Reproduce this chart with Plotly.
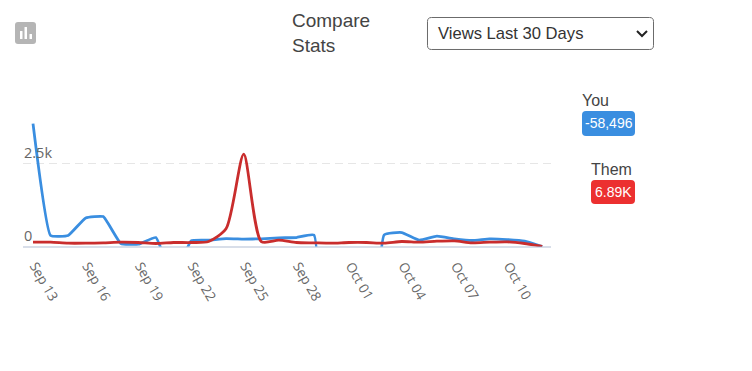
import plotly.graph_objects as go

dates = ["Sep 13","Sep 14","Sep 15","Sep 16","Sep 17","Sep 18","Sep 19","Sep 20","Sep 21","Sep 22",
         "Sep 23","Sep 24","Sep 25","Sep 26","Sep 27","Sep 28","Sep 29","Sep 30","Oct 01","Oct 02",
         "Oct 03","Oct 04","Oct 05","Oct 06","Oct 07","Oct 08","Oct 09","Oct 10","Oct 11","Oct 12"]
you = [3700,330,330,860,900,90,70,270,-1000,170,
       190,240,225,230,260,270,345,-40000,-20000,-9000,
       350,420,190,310,230,180,230,210,160,0]
them = [130,130,100,100,110,130,120,90,120,120,
        150,540,2780,150,190,120,110,100,120,120,
        100,150,130,160,170,110,130,140,90,0]
tick_labels = dates[::3]
y_ticks = [0, 2500]
y_tick_text = ["0", "2.5k"]
W, H = 752, 371
BLUE, RED = "#3a8ee0", "#c92d2d"

def px(x): return x / W
def py(y): return 1 - y / H
def rrect(x0, y0, x1, y1, r):
    X = lambda v: f"{px(v):.5f}"
    Y = lambda v: f"{py(v):.5f}"
    return (f"M{X(x0+r)},{Y(y0)} L{X(x1-r)},{Y(y0)} Q{X(x1)},{Y(y0)} {X(x1)},{Y(y0+r)} "
            f"L{X(x1)},{Y(y1-r)} Q{X(x1)},{Y(y1)} {X(x1-r)},{Y(y1)} "
            f"L{X(x0+r)},{Y(y1)} Q{X(x0)},{Y(y1)} {X(x0)},{Y(y1-r)} "
            f"L{X(x0)},{Y(y0+r)} Q{X(x0)},{Y(y0)} {X(x0+r)},{Y(y0)} Z")
def shape(path, fill="rgba(0,0,0,0)", line=None, width=1):
    return dict(type="path", xref="paper", yref="paper", path=path, fillcolor=fill,
                line=dict(color=line or "rgba(0,0,0,0)", width=width if line else 0))
def note(x, y, text, size, color, xanchor="left", family="Liberation Sans"):
    return dict(xref="paper", yref="paper", x=px(x), y=py(y), text=text, showarrow=False,
                xanchor=xanchor, yanchor="middle", font=dict(size=size, color=color, family=family),
                borderpad=0, borderwidth=0, align="left")

fig = go.Figure()
for name, vals, col, sm in [("You", you, BLUE, 0.35), ("Them", them, RED, 0.7)]:
    fig.add_trace(go.Scatter(x=list(range(len(dates))), y=vals, mode="lines", name=name,
                             line=dict(color=col, width=2.8, shape="spline", smoothing=sm),
                             hoverinfo="skip"))

shapes = [
    shape(rrect(15, 22, 36, 44, 3), "#b5b5b5"),
    shape(rrect(20, 31, 22.5, 39, 0.3), "#ffffff"),
    shape(rrect(24.5, 27, 27, 39, 0.3), "#ffffff"),
    shape(rrect(29.5, 34, 32, 39, 0.3), "#ffffff"),
    shape(rrect(427.5, 17.5, 653.5, 49.5, 4), "#ffffff", "#6b6b6b", 1),
    shape(f"M{px(637):.5f},{py(31):.5f} L{px(642):.5f},{py(36):.5f} L{px(647):.5f},{py(31):.5f}", line="#222222", width=2),
    shape(rrect(582, 111, 635, 136, 4), BLUE),
    shape(rrect(591, 180, 635, 204, 4), "#ec3030"),
]
annotations = [
    note(292, 21, "Compare", 19, "#444444"),
    note(292, 45, "Stats", 19, "#444444"),
    note(438, 33, "Views Last 30 Days", 16.6, "#333333"),
    note(582, 100, "You", 16, "#444444"),
    note(591, 169, "Them", 16, "#444444"),
    note(608.5, 123.5, "-58,496", 14, "#ffffff", "center"),
    note(613, 192, "6.89K", 14, "#ffffff", "center"),
]
for val, txt in zip(y_ticks, y_tick_text):
    annotations.append(dict(xref="paper", yref="y", x=px(24), y=val, text=txt, showarrow=False,
                            xanchor="left", yanchor="bottom", yshift=2, borderpad=0, borderwidth=0,
                            font=dict(family="Open Sans", size=14.5, color="#666666")))

fig.update_layout(
    width=W, height=H, margin=dict(l=0, r=0, t=0, b=0), autosize=False,
    paper_bgcolor="white", plot_bgcolor="white", showlegend=False,
    shapes=shapes, annotations=annotations,
    xaxis=dict(domain=[px(23), px(551)], range=[-0.57, 29.5],
               tickmode="array", tickvals=list(range(0, 30, 3)), ticktext=tick_labels,
               tickangle=60, ticks="", showgrid=False, zeroline=False, showline=False,
               ticklabelstandoff=8, ticklabelshift=2,
               tickfont=dict(family="Open Sans", size=13.5, color="#666666")),
    yaxis=dict(domain=[1 - 246.5 / H, 1 - 100 / H], range=[0, 146.5 / 83 * 2500],
               tickmode="array", tickvals=y_ticks, ticktext=y_tick_text,
               showticklabels=False, ticks="",
               showgrid=True, griddash="8px,5px", gridcolor="#e6e6e6", gridwidth=1,
               zeroline=True, zerolinecolor="#d8dee9", zerolinewidth=2, showline=False),
)
fig.write_html("out.html", config={"displayModeBar": False},
               post_script="document.body.style.margin='0';")
